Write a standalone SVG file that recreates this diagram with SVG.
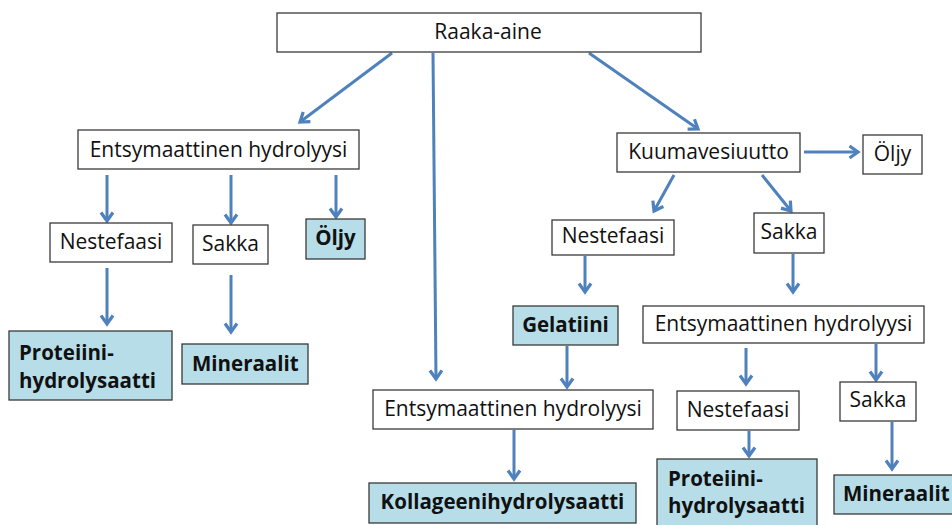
<svg xmlns="http://www.w3.org/2000/svg" width="952" height="525" viewBox="0 0 952 525">
<defs>
<style>
.box{fill:#ffffff;stroke:#3a3a3a;stroke-width:1.3}
.res{fill:#b7dee8;stroke:#3a3a3a;stroke-width:1.3}
.t{font-family:"Open Sans","Liberation Sans",sans-serif;font-size:21px;fill:#111;text-anchor:middle}
.b{font-family:"Open Sans","Liberation Sans",sans-serif;font-size:20.5px;font-weight:bold;fill:#111}
.c{text-anchor:middle}
.a{stroke:#4f81bd;stroke-width:3;fill:none;marker-end:url(#ah)}
</style>
<marker id="ah" viewBox="0 0 16 16" refX="12" refY="8" markerWidth="16" markerHeight="16" markerUnits="userSpaceOnUse" orient="auto">
<path d="M3.5,2 L12,8 L3.5,14" fill="none" stroke="#4f81bd" stroke-width="3.2" stroke-linejoin="miter"/>
</marker>
</defs>
<rect width="952" height="525" fill="#ffffff"/>
<g id="connectors">
<line class="a" x1="392" y1="53" x2="300" y2="122"/>
<line class="a" x1="433" y1="53" x2="436" y2="379"/>
<line class="a" x1="589" y1="53" x2="698" y2="129"/>
<line class="a" x1="107" y1="175" x2="107" y2="221"/>
<line class="a" x1="231" y1="175" x2="231" y2="223"/>
<line class="a" x1="336" y1="175" x2="336" y2="217"/>
<line class="a" x1="107" y1="268" x2="107" y2="324"/>
<line class="a" x1="231" y1="275" x2="231" y2="332"/>
<line class="a" x1="804" y1="152" x2="858" y2="152"/>
<line class="a" x1="674" y1="175" x2="654" y2="211"/>
<line class="a" x1="762" y1="175" x2="791" y2="211"/>
<line class="a" x1="585" y1="256" x2="585" y2="292"/>
<line class="a" x1="793" y1="254" x2="793" y2="292"/>
<line class="a" x1="567" y1="346" x2="567" y2="387"/>
<line class="a" x1="514" y1="430" x2="514" y2="479"/>
<line class="a" x1="746" y1="348" x2="746" y2="384"/>
<line class="a" x1="749" y1="431" x2="749" y2="456"/>
<line class="a" x1="876" y1="344" x2="876" y2="380"/>
<line class="a" x1="892" y1="422" x2="892" y2="469"/>
</g>
<g id="raaka-aine"><rect class="box" x="277" y="13" width="424" height="39"/><text class="t" x="488" y="39">Raaka-aine</text></g>
<g id="entsym1"><rect class="box" x="78" y="130" width="281" height="39"/><text class="t" x="218.5" y="157">Entsymaattinen hydrolyysi</text></g>
<g id="nestefaasi1"><rect class="box" x="50" y="223" width="122" height="39"/><text class="t" x="111" y="249">Nestefaasi</text></g>
<g id="sakka1"><rect class="box" x="193" y="225" width="75" height="39"/><text class="t" x="230.5" y="251">Sakka</text></g>
<g id="oljy1"><rect class="res" x="306" y="219" width="59" height="40"/><text class="b c" x="335.5" y="245">Öljy</text></g>
<g id="proteiini1"><rect class="res" x="9" y="331" width="163" height="69"/><text class="b" x="19" y="360">Proteiini-</text><text class="b" x="19" y="388">hydrolysaatti</text></g>
<g id="mineraalit1"><rect class="res" x="182" y="344" width="126" height="40"/><text class="b" x="192" y="371">Mineraalit</text></g>
<g id="kuumavesiuutto"><rect class="box" x="617" y="133" width="183" height="39"/><text class="t" x="708.5" y="159">Kuumavesiuutto</text></g>
<g id="oljy2"><rect class="box" x="863" y="135" width="59" height="39"/><text class="t" x="892.5" y="161">Öljy</text></g>
<g id="nestefaasi2"><rect class="box" x="552" y="220" width="122" height="35"/><text class="t" x="613" y="243">Nestefaasi</text></g>
<g id="sakka2"><rect class="box" x="754" y="213" width="70" height="40"/><text class="t" x="789" y="239">Sakka</text></g>
<g id="gelatiini"><rect class="res" x="513" y="306" width="105" height="39"/><text class="b c" x="565.5" y="332">Gelatiini</text></g>
<g id="entsym3"><rect class="box" x="643" y="306" width="281" height="37"/><text class="t" x="783.5" y="331">Entsymaattinen hydrolyysi</text></g>
<g id="entsym2"><rect class="box" x="373" y="390" width="280" height="39"/><text class="t" x="513" y="416">Entsymaattinen hydrolyysi</text></g>
<g id="kollageeni"><rect class="res" x="369" y="483" width="267" height="40"/><text class="b c" x="502.5" y="509">Kollageenihydrolysaatti</text></g>
<g id="nestefaasi3"><rect class="box" x="677" y="391" width="122" height="39"/><text class="t" x="738" y="417">Nestefaasi</text></g>
<g id="sakka3"><rect class="box" x="840" y="382" width="76" height="39"/><text class="t" x="878" y="407">Sakka</text></g>
<g id="proteiini2"><rect class="res" x="657" y="459" width="160" height="75"/><text class="b" x="668" y="486">Proteiini-</text><text class="b" x="668" y="513">hydrolysaatti</text></g>
<g id="mineraalit2"><rect class="res" x="834" y="475" width="130" height="39"/><text class="b" x="843" y="501">Mineraalit</text></g>
</svg>
